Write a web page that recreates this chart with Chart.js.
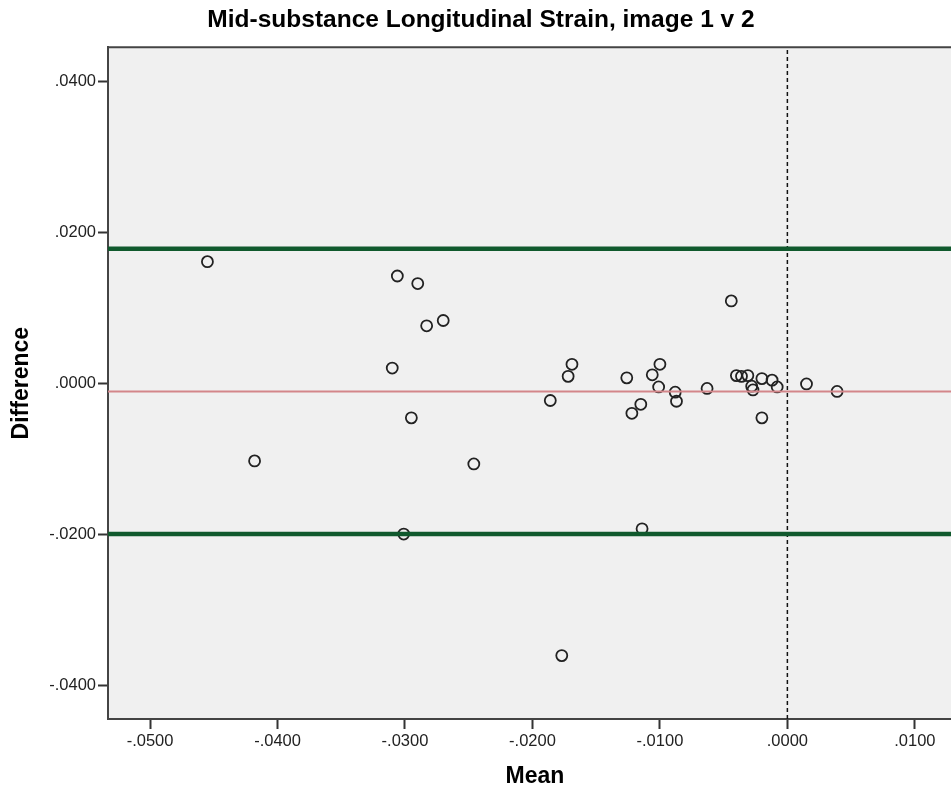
<!DOCTYPE html>
<html>
<head>
<meta charset="utf-8">
<script src="https://cdn.jsdelivr.net/npm/chart.js@4.4.1/dist/chart.umd.min.js"></script>
<style>
  html, body { margin: 0; padding: 0; background: #fff; overflow: hidden; }
  #wrap { width: 962px; height: 789px; }
  canvas { display: block; }
</style>
</head>
<body>
<div id="wrap"><canvas id="blandAltman" width="962" height="789"></canvas></div>
<script>
// mean of the two images (x) and their difference (y), one entry per subject
const meanVals = [-0.0455, -0.0418, -0.0306, -0.0290, -0.0283, -0.0270, -0.0310, -0.0295, -0.0301,
  -0.0246, -0.0186, -0.0169, -0.0172, -0.0177, -0.0126, -0.0115, -0.0122, -0.0100, -0.0106,
  -0.0101, -0.0088, -0.0087, -0.0114, -0.0044, -0.0063, -0.0040, -0.0036, -0.0031, -0.0028,
  -0.0027, -0.0020, -0.0012, -0.0008, -0.0020, 0.0015, 0.0039]
const diffVals = [0.0161, -0.0103, 0.0142, 0.0132, 0.0076, 0.0083, 0.0020, -0.0046, -0.0200,
  -0.0107, -0.0023, 0.0025, 0.0009, -0.0361, 0.0007, -0.0028, -0.0040, 0.0025, 0.0011,
  -0.0005, -0.0012, -0.0024, -0.0193, 0.0109, -0.0007, 0.0010, 0.0009, 0.0010, -0.0004,
  -0.0009, 0.0006, 0.0004, -0.0005, -0.0046, -0.0001, -0.0011]

// bias and limits of agreement
const meanDiff = -0.0011
const upperLimit = 0.0178
const lowerLimit = -0.0200

// axis ranges and ticks
const xRange = [-0.0533, 0.0137]
const yRange = [-0.0445, 0.0445]
const xTickValues = [-0.05, -0.04, -0.03, -0.02, -0.01, 0.0, 0.01]
const xTickLabels = ['-.0500', '-.0400', '-.0300', '-.0200', '-.0100', '.0000', '.0100']
const yTickValues = [-0.04, -0.02, 0.0, 0.02, 0.04]
const yTickLabels = ['-.0400', '-.0200', '.0000', '.0200', '.0400']

const FONT = 'Arial, "Liberation Sans", sans-serif'

const points = meanVals.map((m, i) => ({ x: m, y: diffVals[i] }))
const hLine = (y) => [{ x: xRange[0], y: y }, { x: xRange[1], y: y }]

// grey plot background and the top frame line
const plotFrame = {
  id: 'plotFrame',
  beforeDraw(chart) {
    const { ctx, chartArea: a } = chart
    ctx.save()
    ctx.fillStyle = '#f0f0f0'
    ctx.fillRect(a.left, a.top, a.right - a.left, a.bottom - a.top)
    ctx.strokeStyle = '#444'
    ctx.lineWidth = 2
    ctx.beginPath()
    ctx.moveTo(a.left, a.top)
    ctx.lineTo(a.right, a.top)
    ctx.stroke()
    ctx.restore()
  }
}

const ctx = document.getElementById('blandAltman')

new Chart(ctx, {
  type: 'scatter',
  data: {
    datasets: [
      {
        type: 'line',
        data: hLine(upperLimit),
        borderColor: '#10592d',
        borderWidth: 4.5,
        pointRadius: 0,
        order: 0
      },
      {
        type: 'line',
        data: hLine(lowerLimit),
        borderColor: '#10592d',
        borderWidth: 4.5,
        pointRadius: 0,
        order: 0
      },
      {
        type: 'line',
        data: hLine(meanDiff),
        borderColor: '#d3868a',
        borderWidth: 2,
        pointRadius: 0,
        order: 0
      },
      {
        type: 'line',
        data: [{ x: 0, y: yRange[0] }, { x: 0, y: yRange[1] }],
        borderColor: '#111',
        borderWidth: 1.5,
        borderDash: [4, 3],
        pointRadius: 0,
        order: 0
      },
      {
        data: points,
        pointRadius: 5.5,
        pointBorderWidth: 1.8,
        borderColor: '#222',
        backgroundColor: 'rgba(0,0,0,0)',
        order: 1
      }
    ]
  },
  options: {
    responsive: false,
    animation: false,
    devicePixelRatio: 1,
    layout: { padding: 0, autoPadding: false },
    plugins: {
      legend: { display: false },
      tooltip: { enabled: false },
      title: {
        display: true,
        text: 'Mid-substance Longitudinal Strain, image 1 v 2',
        color: '#000',
        font: { family: FONT, size: 24.5, weight: 'bold', lineHeight: 1 },
        padding: { top: 8.3, bottom: 14.5 }
      }
    },
    scales: {
      x: {
        type: 'linear',
        position: 'bottom',
        min: xRange[0],
        max: xRange[1],
        afterBuildTicks: (scale) => { scale.ticks = xTickValues.map(v => ({ value: v })) },
        afterFit: (scale) => { scale.height = 70 },
        ticks: {
          callback: (v, i) => xTickLabels[i],
          color: '#222',
          padding: 3,
          maxRotation: 0,
          font: { family: FONT, size: 16.5 }
        },
        grid: {
          drawOnChartArea: false,
          drawTicks: true,
          tickLength: 10,
          tickColor: '#333',
          tickWidth: 2
        },
        border: { display: true, color: '#444', width: 2 },
        title: {
          display: true,
          text: 'Mean',
          color: '#000',
          font: { family: FONT, size: 23, weight: 'bold', lineHeight: 1 },
          padding: { top: 0, bottom: 1 }
        }
      },
      y: {
        type: 'linear',
        min: yRange[0],
        max: yRange[1],
        afterBuildTicks: (scale) => { scale.ticks = yTickValues.map(v => ({ value: v })) },
        afterFit: (scale) => { scale.width = 108 },
        ticks: {
          callback: (v, i) => yTickLabels[i],
          color: '#222',
          padding: 2,
          font: { family: FONT, size: 16.5 }
        },
        grid: {
          drawOnChartArea: false,
          drawTicks: true,
          tickLength: 10,
          tickColor: '#333',
          tickWidth: 2
        },
        border: { display: true, color: '#444', width: 2 },
        title: {
          display: true,
          text: 'Difference',
          color: '#000',
          font: { family: FONT, size: 23, weight: 'bold', lineHeight: 1 },
          padding: { top: 10.5, bottom: 0 }
        }
      }
    }
  },
  plugins: [plotFrame]
})
</script>
</body>
</html>
